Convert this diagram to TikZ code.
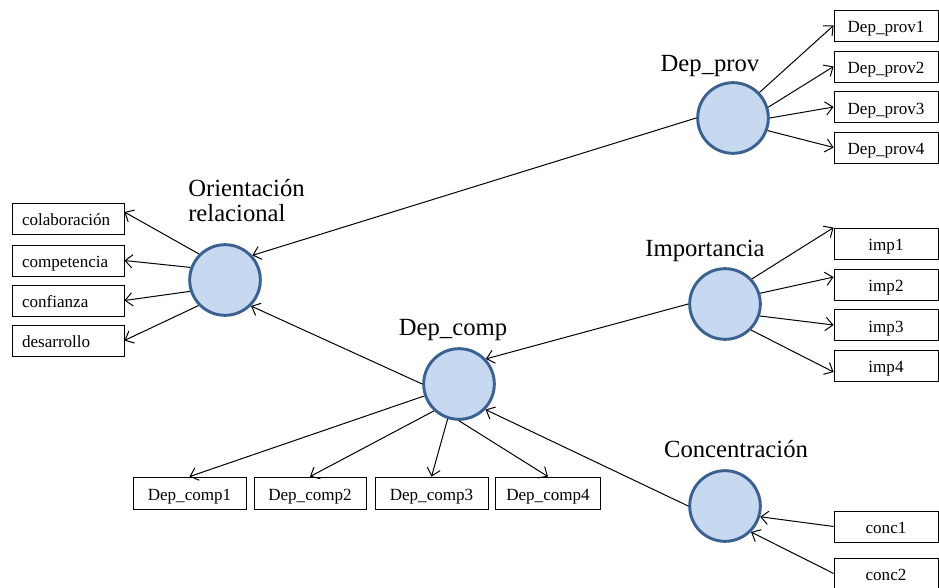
\documentclass[tikz,border=0pt]{standalone}
\usepackage{fontspec}
\setmainfont{Liberation Serif}
\usetikzlibrary{arrows.meta}
\definecolor{latfill}{HTML}{C6D9F1}
\definecolor{latline}{HTML}{3A6190}
\begin{document}
\begin{tikzpicture}[x=0.75pt,y=-0.75pt,
  latent/.style={circle,draw=latline,fill=latfill,line width=2.2pt,minimum size=53pt,inner sep=0pt},
  indic/.style={rectangle,draw=black,line width=0.6pt,minimum width=78pt,minimum height=23.25pt,inner sep=0pt,
    text height=11pt,text depth=0.2pt,font=\fontsize{12.8}{14}\selectfont},
  leftind/.style={indic,align=left,text width=69pt,inner xsep=7.5pt},
  lvlabel/.style={anchor=base,inner sep=0pt,font=\fontsize{18.5}{18.75}\selectfont},
  link/.style={draw,line width=0.75pt,-{Straight Barb[length=5.5pt,width=10pt]}}]

\useasboundingbox (0,0) rectangle (939,588);

% latent constructs
\node[latent] (dp)   at (733,118) {};
\node[latent] (or)   at (225,280) {};
\node[latent] (imp)  at (725,304) {};
\node[latent] (dc)   at (459,384) {};
\node[latent] (conc) at (725,506) {};

% construct labels
\node[lvlabel] (dplab)   at (710,72)  {Dep\_prov};
\node[lvlabel,anchor=base west,align=left] (orlab) at (188,222) {Orientación\\relacional};
\node[lvlabel] (implab)  at (705,257) {Importancia};
\node[lvlabel] (dclab)   at (453,335) {Dep\_comp};
\node[lvlabel] (conclab) at (736,457) {Concentración};

% indicators of Dep_prov
\node[indic] (dp1) at (886,25.5)  {Dep\_prov1};
\node[indic] (dp2) at (886,66.5)  {Dep\_prov2};
\node[indic] (dp3) at (886,107)   {Dep\_prov3};
\node[indic] (dp4) at (886,147.5) {Dep\_prov4};

% indicators of Orientación relacional
\node[leftind] (col)  at (68,218.5) {colaboración};
\node[leftind] (comp) at (68,260.5) {competencia};
\node[leftind] (conf) at (68,300.5) {confianza};
\node[leftind] (des)  at (68,340.5) {desarrollo};

% indicators of Importancia
\node[indic] (imp1) at (886,243.5) {imp1};
\node[indic] (imp2) at (886,284.5) {imp2};
\node[indic] (imp3) at (886,325)   {imp3};
\node[indic] (imp4) at (886,365.5) {imp4};

% indicators of Dep_comp
\node[indic,minimum width=84.75pt,minimum height=24pt] (dc1) at (189.5,493) {Dep\_comp1};
\node[indic,minimum width=84pt,minimum height=24pt]    (dc2) at (310,493)   {Dep\_comp2};
\node[indic,minimum width=84.75pt,minimum height=24pt] (dc3) at (431.5,493) {Dep\_comp3};
\node[indic,minimum width=78.5pt,minimum height=24pt]  (dc4) at (548,493)   {Dep\_comp4};

% indicators of Concentración
\node[indic] (c1) at (886,526.5) {conc1};
\node[indic] (c2) at (886,573.5) {conc2};

% structural paths
\draw[link] (dp.west)   -- (or.42);
\draw[link] (dc.west)   -- (or.-45);
\draw[link] (imp.west)  -- (dc.43);
\draw[link] (conc.west) -- (dc.-44);

% measurement paths
\draw[link] (dp.44)  -- (dp1.west);
\draw[link] (dp.17)  -- (dp2.west);
\draw[link] (dp.0)   -- (dp3.west);
\draw[link] (dp.-20) -- (dp4.west);

\draw[link] (or.135) -- ([yshift=4.9pt]col.east);
\draw[link] (or.160) -- (comp.east);
\draw[link] (or.198) -- (conf.east);
\draw[link] (or.224) -- (des.east);

\draw[link] (imp.43)  -- (imp1.north west);
\draw[link] (imp.17)  -- ([yshift=5.6pt]imp2.west);
\draw[link] (imp.-19) -- (imp3.west);
\draw[link] (imp.-45) -- ([yshift=-4.9pt]imp4.west);

\draw[link] (dc.199) -- (dc1.north);
\draw[link] (dc.227) -- (dc2.north);
\draw[link] (dc.252) -- (dc3.north);
\draw[link] (dc.270) -- (dc4.north);

\draw[link] (c1.west) -- (conc.-17);
\draw[link] (c2.west) -- (conc.-45);
\end{tikzpicture}
\end{document}
